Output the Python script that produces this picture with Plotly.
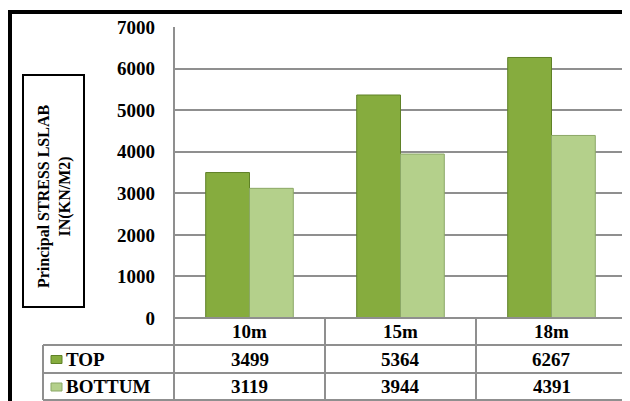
import plotly.graph_objects as go

# data
categories = ["10m", "15m", "18m"]
series_names = ["TOP", "BOTTUM"]
top_values = [3499, 5364, 6267]
bottom_values = [3119, 3944, 4391]
y_ticks = [0, 1000, 2000, 3000, 4000, 5000, 6000, 7000]

colors = ["#86AC3E", "#B4D08B"]
edge_colors = ["#5F8127", "#8BA866"]

# the page body adds an 8px margin, so the figure is made 8px smaller
OFF = 8
W, H = 630 - OFF, 401 - OFF
# plot area in reference pixels
L, R, T, B = 174, 627, 27, 318


def px_x(p):
    return (p - L) / (R - L)


def px_y(p):
    return (B - p) / (B - T)


FONT = "Liberation Serif"
GRID = "#8f8f8f"

fig = go.Figure()
for name, vals, col, edge in zip(series_names, [top_values, bottom_values], colors, edge_colors):
    fig.add_trace(go.Bar(
        x=categories, y=vals, name=name,
        marker=dict(color=col, line=dict(color=edge, width=1)),
        showlegend=False,
    ))

shapes = []
annotations = []

# outer black frame
shapes.append(dict(type="rect", xref="paper", yref="paper",
                   x0=px_x(10), x1=px_x(629), y0=px_y(12), y1=px_y(430),
                   line=dict(color="black", width=4)))
# y title box
shapes.append(dict(type="rect", xref="paper", yref="paper",
                   x0=px_x(23), x1=px_x(84), y0=px_y(75), y1=px_y(307),
                   line=dict(color="black", width=2)))
# axis line and table lines
gline = dict(color=GRID, width=2)
shapes.append(dict(type="line", xref="paper", yref="paper",
                   x0=0, x1=0, y0=px_y(27), y1=px_y(400), line=gline))
for py in [345, 373, 400]:
    shapes.append(dict(type="line", xref="paper", yref="paper",
                       x0=px_x(43), x1=1, y0=px_y(py), y1=px_y(py), line=gline))
shapes.append(dict(type="line", xref="paper", yref="paper",
                   x0=0, x1=1, y0=0, y1=0, line=gline))
shapes.append(dict(type="line", xref="paper", yref="paper",
                   x0=px_x(43), x1=px_x(43), y0=px_y(345), y1=px_y(400), line=gline))
for i in range(1, len(categories) + 1):
    shapes.append(dict(type="line", xref="x", yref="paper",
                       x0=i - 0.5, x1=i - 0.5, y0=0, y1=px_y(400), line=gline))

# table contents
row_y = [331.5, 359, 386.5]
tfont = dict(family=FONT, size=19, color="black", weight="bold")
for c in categories:
    annotations.append(dict(x=c, y=px_y(row_y[0]), xref="x", yref="paper",
                            xanchor="center", yanchor="middle",
                            text=c, showarrow=False, font=tfont))
for r, vals in enumerate([top_values, bottom_values]):
    for c, v in zip(categories, vals):
        annotations.append(dict(x=c, y=px_y(row_y[r + 1]), xref="x", yref="paper",
                                xanchor="center", yanchor="middle",
                                text=str(v), showarrow=False, font=tfont))

# legend keys in table
for r, (name, col, edge) in enumerate(zip(series_names, colors, edge_colors)):
    yc = row_y[r + 1]
    shapes.append(dict(type="rect", xref="paper", yref="paper",
                       x0=px_x(51), x1=px_x(62), y0=px_y(yc - 3.5), y1=px_y(yc + 4.5),
                       fillcolor=col, line=dict(color=edge, width=1)))
    annotations.append(dict(x=px_x(64), y=px_y(yc), xref="paper", yref="paper",
                            text=name, showarrow=False, xanchor="left", yanchor="middle",
                            font=tfont))

# y title
annotations.append(dict(x=px_x(55), y=px_y(196), xref="paper", yref="paper",
                        xanchor="center", yanchor="middle",
                        text="Principal STRESS LSLAB<br>IN(KN/M2)", textangle=-90,
                        showarrow=False,
                        font=dict(family=FONT, size=16, color="black", weight="bold")))

fig.update_layout(
    width=W, height=H,
    margin=dict(l=L - OFF, r=W - (R - OFF), t=T - OFF, b=H - (B - OFF), pad=0),
    paper_bgcolor="white", plot_bgcolor="white",
    barmode="group", bargap=0.42, bargroupgap=0,
    shapes=shapes, annotations=annotations,
    xaxis=dict(showticklabels=False, showgrid=False, showline=False,
               range=[-0.5, len(categories) - 0.5], fixedrange=True),
    yaxis=dict(range=[0, 7000], tickvals=y_ticks, showgrid=True,
               gridcolor=GRID, gridwidth=2, zeroline=False, showline=False,
               ticklabelstandoff=18,
               tickfont=dict(family=FONT, size=19, color="black", weight="bold")),
)

fig.write_html("out.html")
